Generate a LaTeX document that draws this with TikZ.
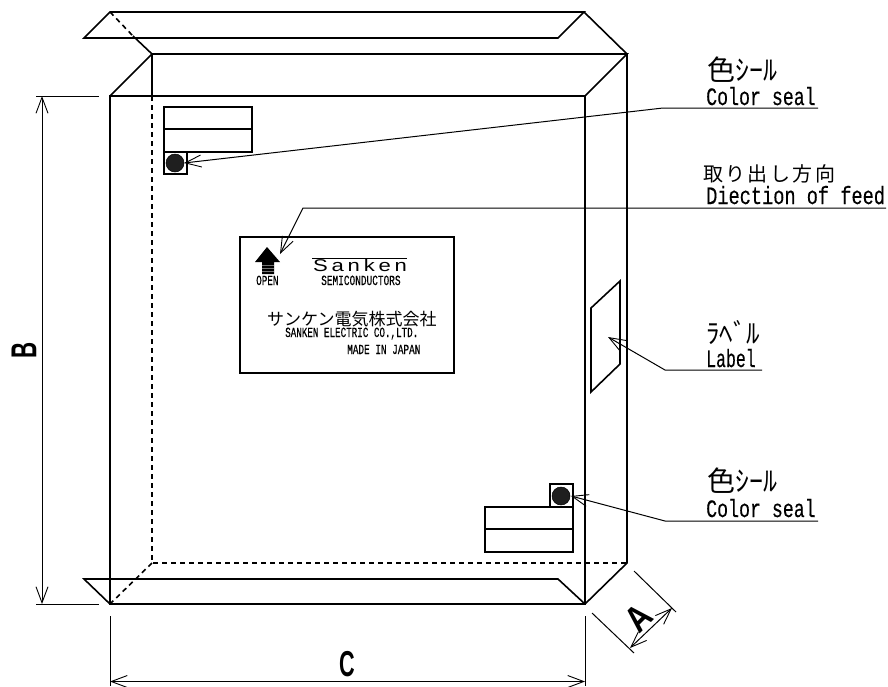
\documentclass[tikz,border=0pt]{standalone}
\usepackage{fontspec}
\usetikzlibrary{arrows.meta}
\setmainfont{Liberation Sans}
\newfontfamily\monofam[FakeBold=0.4]{Liberation Mono}
\newfontfamily\cjkfam{Noto Sans CJK JP}
\newfontfamily\cjkspaced[LetterSpace=12]{Noto Sans CJK JP}
\newfontfamily\sankenfam[LetterSpace=17]{Liberation Sans}
\newcommand\monotxt[3]{\scalebox{#2}[1]{\fontsize{#1}{#1}\selectfont\monofam #3}}
\newcommand\dimtxt[2]{\scalebox{#1}[1]{\fontsize{36}{36}\selectfont\bfseries #2}}
\tikzset{
  body/.style={line width=1.6pt, draw=black, line join=miter},
  hidden/.style={line width=1.6pt, draw=black, dash pattern=on 5pt off 4pt},
  thinline/.style={line width=1pt, draw=black},
  leader/.style={thinline, {Straight Barb[length=16pt,width=12pt,line width=0.9pt]}-},
  dimline/.style={thinline, {Straight Barb[length=16pt,width=12pt,line width=0.9pt]}-{Straight Barb[length=16pt,width=12pt,line width=0.9pt]}},
  txt/.style={inner sep=0pt, anchor=base west},
  plate/.style={line width=1.6pt, draw=black},
  seal/.style={circle, inner sep=0pt, minimum size=18pt, fill=black!88, draw=black, line width=0.5pt}
}
\begin{document}
\begin{tikzpicture}[x=1pt,y=-1pt]
\useasboundingbox (0,0) rectangle (888,686);
% box corners
\coordinate (fTL) at (110,96);
\coordinate (fTR) at (585,96);
\coordinate (fBL) at (110,604);
\coordinate (fBR) at (585,604);
\coordinate (bTL) at (152,54);
\coordinate (bTR) at (627,54);
\coordinate (bBL) at (152,563);
\coordinate (bBR) at (627,563);
% main box
\draw[body] (fBL) -- (fTL) -- (fTR) -- (fBR) -- cycle;
\draw[body] (fTL) -- (bTL) -- (bTR) -- (fTR);
\draw[body] (bTR) -- (bBR) -- (fBR);
\draw[body] (bTL) -- (152,96);
\draw[hidden] (152,96) -- (bBL) -- (bBR);
\draw[hidden] (bBL) -- (fBL);
% top flap
\draw[body] (133,38) -- (84,38) -- (110,12) -- (584,12) -- (558,38) -- (133,38);
\draw[body] (584,12) -- (bTR);
\draw[hidden] (110,12) -- (133,36);
\draw[body] (133,36) -- (bTL);
% bottom flap
\draw[body] (fBL) -- (84,579) -- (558,579) -- (fBR);
% upper label strips
\draw[plate] (164,107) rectangle (252,152);
\draw[plate] (164,129) -- (252,129);
\draw[plate] (164,152) rectangle (187,174);
\node[seal] (sealA) at (175,163) {};
% lower label strips
\draw[plate] (485,507) rectangle (573,552);
\draw[plate] (485,529) -- (573,529);
\draw[plate] (550,484) rectangle (573,507);
\node[seal] (sealB) at (561,496) {};
% side label
\draw[plate] (620,281) -- (620,364) -- (591,392) -- (591,308) -- cycle;
% plate
\draw[plate] (240,237) rectangle (454,373);
\fill (267,247) -- (280,262) -- (274,262) -- (274,274) -- (262,274) -- (262,262) -- (255,262) -- cycle;
\foreach \yy in {265,268,271} \draw[black!55, line width=0.3pt] (262,\yy) -- (274,\yy);
\node[txt] (open) at (256,285) {\monotxt{14}{0.665}{OPEN}};
\draw[line width=1pt] (312,258) -- (407,258);
\node[txt] (sanken) at (313,271) {\scalebox{1.3}[1]{\fontsize{17}{17}\selectfont\sankenfam Sanken}};
\node[txt] (semi) at (321,285) {\monotxt{14}{0.675}{SEMICONDUCTORS}};
\node[txt] (jpco) at (267,325) {\fontsize{17}{17}\selectfont\cjkfam サンケン電気株式会社};
\node[txt] (enco) at (285,337) {\monotxt{14}{0.66}{SANKEN ELECTRIC CO.,LTD.}};
\node[txt] (made) at (347,354) {\monotxt{14}{0.67}{MADE IN JAPAN}};
% callout texts
\node[txt] (j1) at (707,80) {\fontsize{28}{28}\selectfont\cjkfam 色ｼｰﾙ};
\node[txt] (e1) at (706,105) {\monotxt{25}{0.73}{Color seal}};
\node[txt] (j2) at (703,181) {\fontsize{20}{20}\selectfont\cjkspaced 取り出し方向};
\node[txt] (e2) at (706,204) {\monotxt{25}{0.745}{Diection of feed}};
\node[txt] (j3) at (706,343) {\fontsize{27}{27}\selectfont\cjkfam ﾗﾍﾞﾙ};
\node[txt] (e3) at (706,367) {\monotxt{25}{0.66}{Label}};
\node[txt] (j4) at (707,491) {\fontsize{28}{28}\selectfont\cjkfam 色ｼｰﾙ};
\node[txt] (e4) at (706,517) {\monotxt{25}{0.73}{Color seal}};
% leaders
\coordinate (t1) at (184,163); \coordinate (k1) at (663,108); \coordinate (r1) at (818,108);
\coordinate (t2) at (280,254); \coordinate (k2) at (303,208); \coordinate (r2) at (886,208);
\coordinate (t3) at (608,337); \coordinate (k3) at (665,370); \coordinate (r3) at (762,370);
\coordinate (t4) at (571,496); \coordinate (k4) at (665,521); \coordinate (r4) at (818,521);
\draw[leader] (t1) -- (k1) -- (r1);
\draw[leader] (t2) -- (k2) -- (r2);
\draw[leader] (t3) -- (k3) -- (r3);
\draw[leader] (t4) -- (k4) -- (r4);
% dimension B
\coordinate (bu) at (42,96); \coordinate (bd) at (42,604);
\draw[thinline] (36,96) -- (99,96);
\draw[thinline] (36,604) -- (99,604);
\draw[dimline] (bu) -- (bd);
\node[inner sep=0pt, rotate=90] (B) at (24,350) {\dimtxt{0.62}{B}};
% dimension C
\coordinate (cl) at (110,681.5); \coordinate (cr) at (585,681.5);
\draw[thinline] (110,616) -- (110,686);
\draw[thinline] (585,616) -- (585,686);
\draw[dimline] (cl) -- (cr);
\node[inner sep=0pt] (C) at (347,664.5) {\dimtxt{0.6}{C}};
% dimension A
\coordinate (al) at (630,648); \coordinate (ar) at (672,608);
\draw[thinline] (592,613) -- (634,653);
\draw[thinline] (634,571) -- (676,612);
\draw[dimline] (al) -- (ar);
\node[inner sep=0pt, rotate=45] (A) at (639,618) {\dimtxt{0.85}{A}};
\end{tikzpicture}
\end{document}
